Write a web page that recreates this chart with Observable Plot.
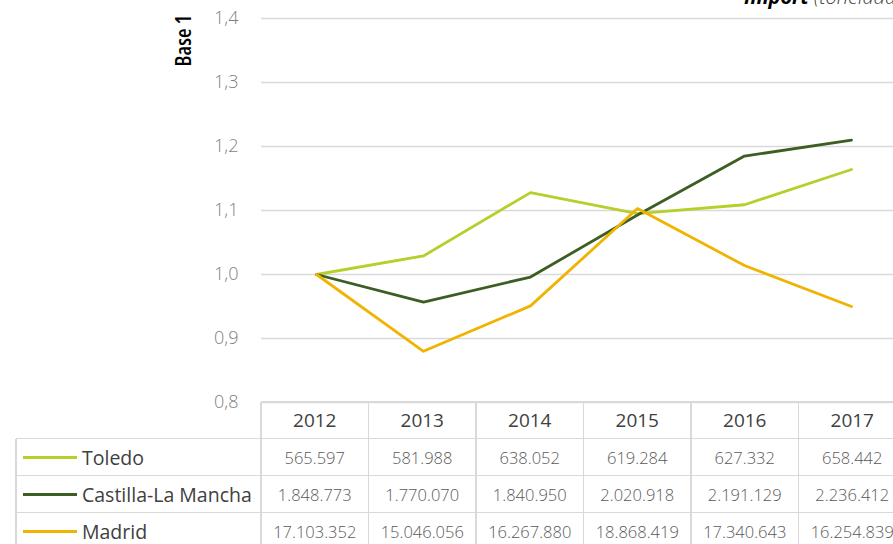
<!DOCTYPE html>
<html>
<head>
<meta charset="utf-8">
<script src="https://cdn.jsdelivr.net/npm/d3@7"></script>
<script src="https://cdn.jsdelivr.net/npm/@observablehq/plot@0.6"></script>
<style>
  html, body { margin: 0; padding: 0; background: #fff; }
  #wrap { position: relative; width: 893px; height: 544px; overflow: hidden; font-family: "Open Sans", sans-serif; }
  #chart { position: absolute; left: 0; top: 0; }
  .title { position: absolute; left: 744px; top: -13px; font-size: 20px; line-height: 20px; font-style: italic; white-space: nowrap; color: #000; }
  .title b { font-weight: 700; }
  .title span { font-weight: 300; color: #404040; }
  .cell { position: absolute; box-sizing: border-box; display: flex; align-items: center; justify-content: center; white-space: nowrap; }
  .hline, .vline { position: absolute; background: #d9d9d9; }
</style>
</head>
<body>
<div id="wrap">
  <div id="chart"></div>
  <div class="title"><b>Import</b> <span>(toneladas)</span></div>
  <div id="table"></div>
</div>
<script>
// ---- data ----
const years = ["2012", "2013", "2014", "2015", "2016", "2017"];
const seriesNames = ["Toledo", "Castilla-La Mancha", "Madrid"];
const seriesColors = ["#b6cf2a", "#3d5e23", "#f0b400"];
// Index (base 2012 = 1)
const toledoIndex = [1.000, 1.029, 1.128, 1.095, 1.109, 1.164];
const clmIndex    = [1.000, 0.957, 0.996, 1.093, 1.185, 1.210];
const madridIndex = [1.000, 0.880, 0.951, 1.103, 1.014, 0.950];
// Table values (tonnes)
const toledoTons = ["565.597", "581.988", "638.052", "619.284", "627.332", "658.442"];
const clmTons    = ["1.848.773", "1.770.070", "1.840.950", "2.020.918", "2.191.129", "2.236.412"];
const madridTons = ["17.103.352", "15.046.056", "16.267.880", "18.868.419", "17.340.643", "16.254.839"];
const yTicks = [0.8, 0.9, 1.0, 1.1, 1.2, 1.3, 1.4];
const yLabel = "Base 1";

// ---- build ----
const indexSeries = [toledoIndex, clmIndex, madridIndex];
const tonSeries = [toledoTons, clmTons, madridTons];
const rows = [];
seriesNames.forEach((name, i) => years.forEach((yr, j) => rows.push({series: name, year: yr, value: indexSeries[i][j]})));

const X0 = 261, X1 = 906;
const plot = Plot.plot({
  width: 893,
  height: 404,
  marginTop: 18,
  marginBottom: 2,
  marginLeft: X0,
  marginRight: 0,
  style: {fontFamily: "Open Sans, sans-serif", background: "transparent", overflow: "visible"},
  x: {type: "point", domain: years, range: [X0, X1], padding: 0.5, axis: null},
  y: {domain: [0.8, 1.4], axis: null},
  color: {domain: seriesNames, range: seriesColors},
  marks: [
    Plot.ruleY(yTicks, {stroke: "#d9d9d9", strokeWidth: 1.5}),
    Plot.axisY(yTicks, {
      tickSize: 0, tickPadding: 23, label: null,
      tickFormat: d => d.toFixed(1).replace(".", ","),
      fontSize: 18, fill: "#7f7f7f", fontWeight: 300
    }),
    Plot.text([yLabel], {frameAnchor: "top-left", dx: -78, dy: 22, rotate: -90, textAnchor: "middle", lineAnchor: "middle",
      fontSize: 22, fontWeight: 600, fill: "#000"}),
    Plot.line(rows, {x: "year", y: "value", z: "series", stroke: "series", strokeWidth: 2.8, strokeLinejoin: "round"})
  ]
});
d3.select(plot).selectAll("text").filter(function () { return this.textContent === yLabel; })
  .style("font-stretch", "75%");
document.getElementById("chart").appendChild(plot);

// ---- table ----
const table = document.getElementById("table");
const colW = (X1 - X0) / years.length;
const headerTop = 402, headerH = 36.5, rowH = 37, tableLeft = 16;
function add(cls, style, html) {
  const d = document.createElement("div");
  d.className = cls;
  Object.assign(d.style, style);
  if (html != null) d.innerHTML = html;
  table.appendChild(d);
  return d;
}
// header cells
years.forEach((yr, j) => {
  add("cell", {left: (X0 + j * colW) + "px", top: headerTop + "px", width: colW + "px", height: headerH + "px",
    fontSize: "19px", fontWeight: 500, color: "#404040"}, yr);
});
// data rows
seriesNames.forEach((name, i) => {
  const top = headerTop + headerH + i * rowH;
  const lab = add("cell", {left: tableLeft + "px", top: top + "px", width: (X0 - tableLeft) + "px", height: rowH + "px",
    justifyContent: "flex-start", fontSize: "19.5px", color: "#404040"});
  lab.innerHTML = `<span style="display:inline-block;width:54px;height:3px;background:${seriesColors[i]};margin-left:7px;margin-right:5px"></span>${name}`;
  years.forEach((yr, j) => {
    add("cell", {left: (X0 + j * colW) + "px", top: top + "px", width: colW + "px", height: rowH + "px",
      fontSize: "16.5px", color: "#595959", fontWeight: 300}, tonSeries[i][j]);
  });
});
// grid lines of the table
const lw = 1.5;
add("hline", {left: X0 + "px", top: (headerTop - 0.75) + "px", width: (X1 - X0 + 20) + "px", height: lw + "px"});
for (let i = 0; i <= seriesNames.length; i++) {
  const y = headerTop + headerH + i * rowH;
  add("hline", {left: tableLeft + "px", top: (y - 0.75) + "px", width: (X1 - tableLeft + 20) + "px", height: lw + "px"});
}
add("vline", {left: (tableLeft - 0.75) + "px", top: (headerTop + headerH) + "px", width: lw + "px", height: "200px"});
for (let j = 0; j <= years.length; j++) {
  add("vline", {left: (X0 + j * colW - 0.75) + "px", top: headerTop + "px", width: lw + "px", height: "200px"});
}
</script>
</body>
</html>
